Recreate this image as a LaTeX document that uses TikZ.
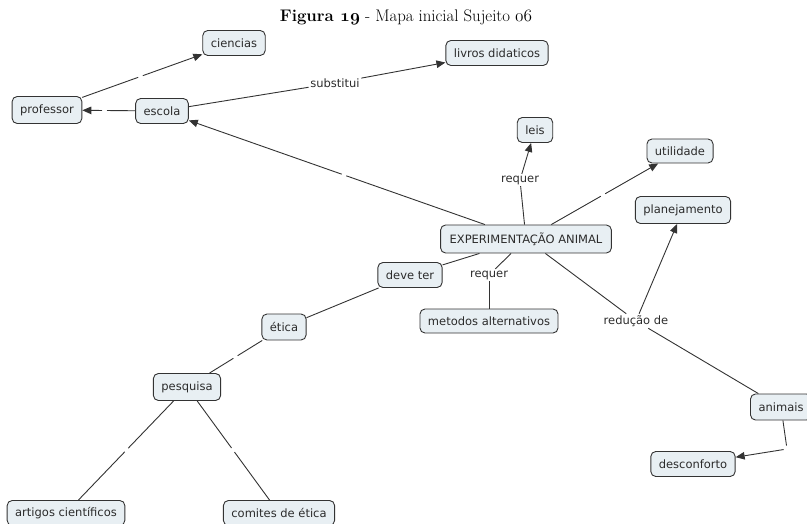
\documentclass[tikz,border=0pt]{standalone}
\usepackage{fontspec}
\setsansfont{DejaVu Sans}
\usetikzlibrary{arrows.meta,calc}

\definecolor{conceptfill}{HTML}{E8EFF3}
\definecolor{edgegray}{HTML}{333333}
\definecolor{textgray}{HTML}{2B2B2B}

% old-style figures taken from the math italic font
\newcommand{\osnum}[1]{{\usefont{OML}{cmm}{m}{it}#1}}
\newcommand{\osnumb}[1]{{\usefont{OML}{cmm}{b}{it}#1}}

\tikzset{
  concept/.style={draw=edgegray, fill=conceptfill, rounded corners=5pt,
    line width=0.9pt, text=textgray,
    font=\sffamily\fontsize{11.5}{13}\selectfont,
    inner xsep=8pt, inner ysep=0pt, minimum height=25pt},
  linkphrase/.style={text=textgray, inner sep=1.5pt,
    font=\sffamily\fontsize{11.5}{13}\selectfont},
  conn/.style={draw=edgegray, line width=0.9pt},
  arr/.style={conn, -{Triangle[length=9pt,width=7.5pt]}},
}

\begin{document}
\begin{tikzpicture}[x=1pt,y=-1pt]
\useasboundingbox (0,0) rectangle (807,524);
\clip (0,0) rectangle (807,524);

% caption
\node[anchor=base, inner sep=0pt, font=\fontsize{16.8}{19}\selectfont] (title) at (406,22)
  {\textbf{Figura \osnumb{19}} - Mapa inicial Sujeito \osnum{06}};

% concepts
\node[concept] (cien) at (234,43) {ciencias};
\node[concept] (livr) at (497,53) {livros didaticos};
\node[concept, minimum height=27pt] (prof) at (47,110) {professor};
\node[concept] (esco) at (162,111) {escola};
\node[concept] (leis) at (535,130) {leis};
\node[concept, minimum height=24pt] (util) at (680,151) {utilidade};
\node[concept, minimum height=27pt] (plan) at (683,210) {planejamento};
\node[concept, minimum height=28pt, inner xsep=9pt] (exp) at (526,239) {EXPERIMENTAÇÃO ANIMAL};
\node[concept] (deve) at (410,275) {deve ter};
\node[concept, minimum height=24pt] (meto) at (489,321) {metodos alternativos};
\node[concept, minimum height=26pt] (etic) at (284,327) {ética};
\node[concept, minimum height=27pt] (pesq) at (187,387) {pesquisa};
\node[concept, minimum height=26pt] (anim) at (781,407) {animais};
\node[concept] (desc) at (693,464) {desconforto};
\node[concept] (arti) at (66,513) {artigos científicos};
\node[concept] (comi) at (279,513) {comites de ética};

% linking phrases
\node[linkphrase] (subs) at (335,83) {substitui};
\node[linkphrase] (requ1) at (520,180) {requer};
\node[linkphrase] (requ2) at (489,275) {requer};
\node[linkphrase] (redu) at (636,321) {redução de};

% unlabeled links leave a small gap where their empty phrase sits
\coordinate (g1) at ($(prof)!0.5!(cien)$);
\coordinate (g2) at ($(esco)!0.5!(prof)$);
\coordinate (g3) at ($(exp)!0.5!(esco)$);
\coordinate (g4) at ($(exp)!0.5!(util)$);
\coordinate (g5) at ($(etic)!0.5!(pesq)$);
\coordinate (g6) at ($(pesq)!0.5!(arti)$);
\coordinate (g7) at ($(pesq)!0.5!(comi)$);
\coordinate (g8) at (787,449);

\draw[conn, shorten >=2.5pt] (prof) -- (g1);
\draw[arr, shorten <=2.5pt] (g1) -- (cien);
\draw[conn, shorten >=2.5pt] (esco) -- (g2);
\draw[arr, shorten <=2.5pt] (g2) -- (prof);
\draw[conn, shorten >=2.5pt] (exp) -- (g3);
\draw[arr, shorten <=2.5pt] (g3) -- (esco);
\draw[conn, shorten >=2.5pt] (exp) -- (g4);
\draw[arr, shorten <=2.5pt] (g4) -- (util);
\draw[conn, shorten >=2.5pt] (etic) -- (g5);
\draw[conn, shorten <=2.5pt] (g5) -- (pesq);
\draw[conn, shorten >=2.5pt] (pesq) -- (g6);
\draw[conn, shorten <=2.5pt] (g6) -- (arti);
\draw[conn, shorten >=2.5pt] (pesq) -- (g7);
\draw[conn, shorten <=2.5pt] (g7) -- (comi);
\draw[conn, shorten >=3.5pt] (anim) -- (g8);
\draw[arr, shorten <=3.5pt] (g8) -- (desc);

% labelled links
\draw[conn] (esco) -- (subs);
\draw[arr] (subs) -- (livr);
\draw[conn] (exp) -- (requ1);
\draw[arr] (requ1) -- (leis);
\draw[conn] (exp) -- (requ2);
\draw[conn] (requ2) -- (meto);
\draw[conn] (exp) -- (deve);
\draw[conn] (deve) -- (etic);
\draw[conn] (exp) -- (redu);
\draw[arr] (redu) -- (plan);
\draw[conn] (redu) -- (anim);
\end{tikzpicture}
\end{document}
